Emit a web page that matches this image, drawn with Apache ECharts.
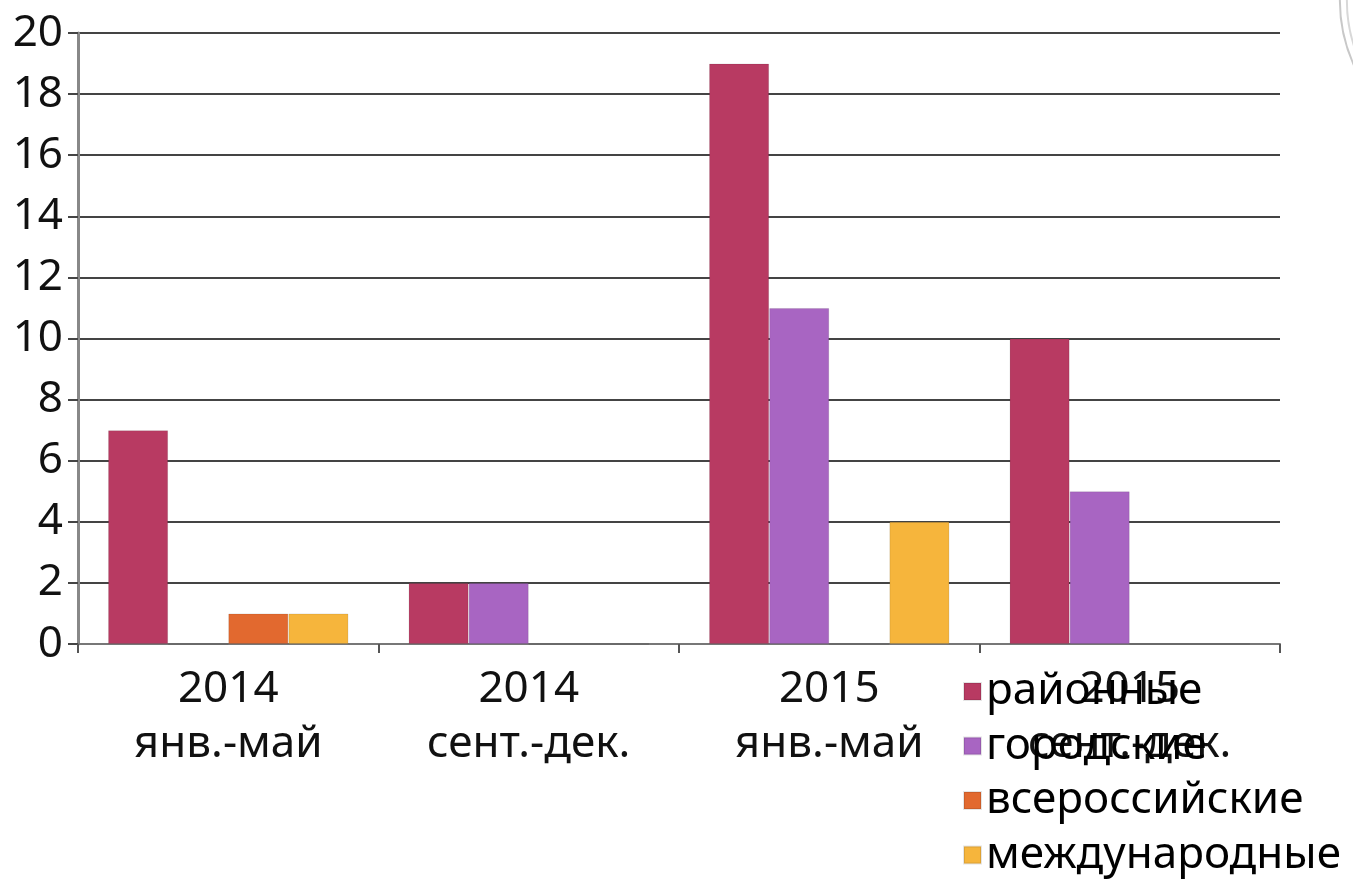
<!DOCTYPE html>
<html><head><meta charset="utf-8">
<script src="https://cdn.jsdelivr.net/npm/echarts@6/dist/echarts.min.js"></script>
<style>html,body{margin:0;padding:0;background:#fff}#c{width:1353px;height:879px}</style>
</head><body><div id="c"></div>
<script>
const categories = ['2014\nянв.-май', '2014\nсент.-дек.', '2015\nянв.-май', '2015\nсент.-дек.'];
const seriesNames = ['районные', 'городские', 'всероссийские', 'международные'];
const rayonnye = [7, 2, 19, 10];
const gorodskie = [0, 2, 11, 5];
const vserossiyskie = [1, 0, 0, 0];
const mezhdunarodnye = [1, 0, 4, 0];
const yTicks = [0, 2, 4, 6, 8, 10, 12, 14, 16, 18, 20];
const colors = ['#B83A62', '#A865C2', '#E2692F', '#F6B53C'];
const values = [rayonnye, gorodskie, vserossiyskie, mezhdunarodnye];
const font = 'Noto Sans';
const chart = echarts.init(document.getElementById('c'));
chart.setOption({
  animation: false,
  graphic: [
    {type: 'arc', shape: {cx: 1500, cy: 0, r: 160, startAngle: Math.PI * 0.85, endAngle: Math.PI * 1.05}, style: {stroke: '#c8c8c8', lineWidth: 2, fill: null}},
    {type: 'arc', shape: {cx: 1500, cy: 0, r: 153, startAngle: Math.PI * 0.85, endAngle: Math.PI * 1.05}, style: {stroke: '#d8d8d8', lineWidth: 2, fill: null}}
  ],
  grid: {left: 78, right: 73, top: 33, bottom: 235},
  legend: {
    orient: 'vertical', left: 963, top: 669, itemGap: 9.5, itemWidth: 17, itemHeight: 17, padding: 0,
    icon: 'rect', data: seriesNames,
    textStyle: {fontFamily: font, fontSize: 44, lineHeight: 45, color: '#000'}
  },
  xAxis: {
    type: 'category', data: categories,
    axisLine: {lineStyle: {color: '#777', width: 2}},
    axisTick: {show: true, length: 9, lineStyle: {color: '#555', width: 2}},
    axisLabel: {fontFamily: font, fontSize: 44, color: '#111', lineHeight: 55, margin: 18}
  },
  yAxis: {
    type: 'value', min: yTicks[0], max: yTicks[yTicks.length - 1], interval: 2,
    axisLine: {show: true, lineStyle: {color: '#888', width: 3}},
    axisTick: {show: true, length: 10, inside: false, lineStyle: {color: '#444', width: 2}},
    splitLine: {lineStyle: {color: '#444', width: 2}},
    axisLabel: {fontFamily: font, fontSize: 44, color: '#111', margin: 15}
  },
  series: seriesNames.map((n, i) => ({
    name: n, type: 'bar', data: values[i], barGap: '0%', barCategoryGap: '20%',
    itemStyle: {color: colors[i], borderColor: 'rgba(0,0,0,0.1)', borderWidth: 1}
  }))
});
</script></body></html>
